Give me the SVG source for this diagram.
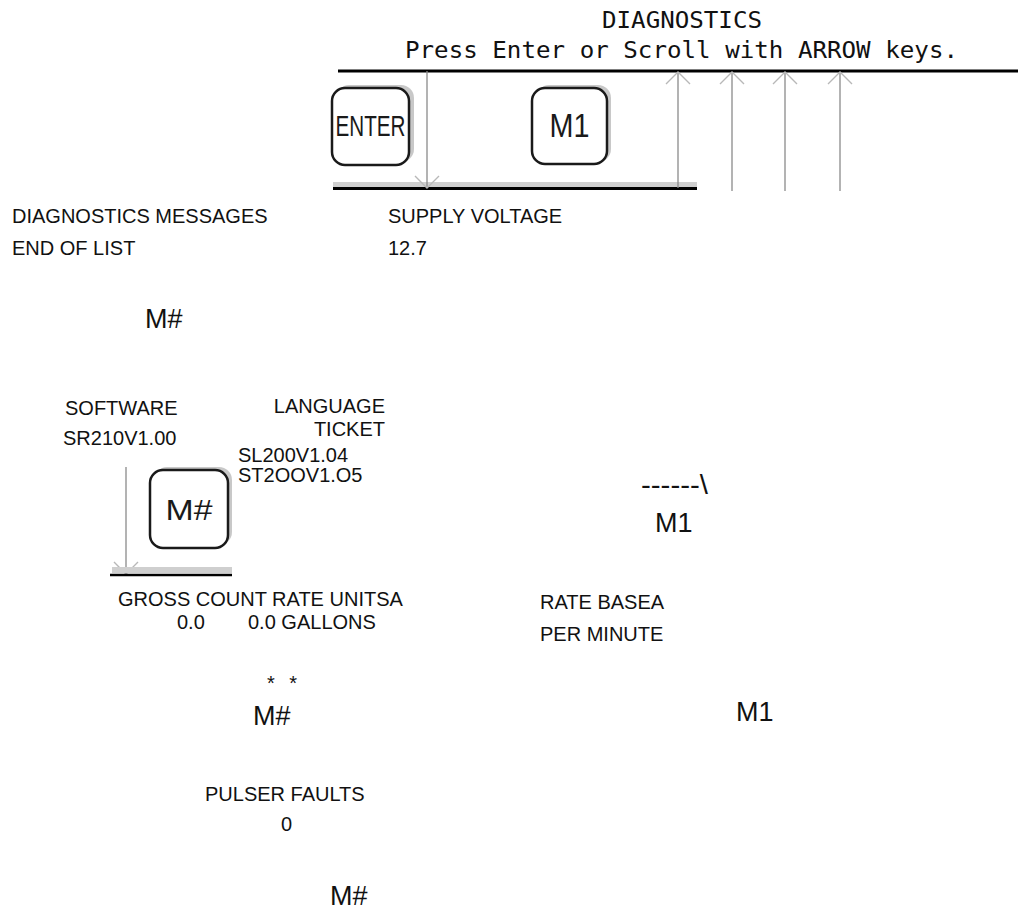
<svg xmlns="http://www.w3.org/2000/svg" width="1018" height="910" viewBox="0 0 1018 910">
<style>
.t{font-family:"Liberation Sans",Arial,sans-serif;font-size:20px;fill:#111}
.m{font-family:"Liberation Sans",Arial,sans-serif;font-size:27px;fill:#111}
.mono{font-family:"DejaVu Sans Mono","Liberation Mono",monospace;font-size:23px;fill:#111}
.key{fill:#fff;stroke:#1a1a1a;stroke-width:2.5}
.shadow{fill:#c8c8c8}
.keytxt{font-family:"Liberation Sans",Arial,sans-serif;fill:#1a1a1a}
.conn{stroke:#8a8a8a;stroke-width:1.3;fill:none}
.rule{stroke:#000;stroke-width:3}
.bar{fill:#cfcfcf}
</style>
<defs>
<marker id="head" viewBox="-14 -14 16 28" refX="0" refY="0" markerWidth="16" markerHeight="28" markerUnits="userSpaceOnUse" orient="auto">
<path d="M-12,-12 L0,0 L-12,12" fill="none" stroke="#b8b8b8" stroke-width="1.4"/>
</marker>
</defs>
<rect width="1018" height="910" fill="#fff"/>

<g id="header">
<text class="mono" x="682" y="28" text-anchor="middle" textLength="160" lengthAdjust="spacingAndGlyphs">DIAGNOSTICS</text>
<text class="mono" x="405" y="58" textLength="553" lengthAdjust="spacingAndGlyphs">Press Enter or Scroll with ARROW keys.</text>
</g>

<g id="panel-top">
<rect class="bar" x="333" y="182" width="364" height="6"/>
<line class="rule" x1="338" y1="71" x2="1018" y2="71"/>
<line class="rule" x1="333" y1="188.5" x2="697" y2="188.5"/>
</g>

<g id="key-enter">
<rect class="shadow" x="336" y="85" width="78" height="77" rx="13"/>
<rect class="key" x="332" y="88" width="77" height="77" rx="13"/>
<text class="keytxt" x="370.5" y="136" font-size="29" text-anchor="middle" textLength="70" lengthAdjust="spacingAndGlyphs">ENTER</text>
</g>

<g id="key-m1">
<rect class="shadow" x="536" y="85" width="75" height="77" rx="13"/>
<rect class="key" x="532" y="88" width="75" height="76" rx="13"/>
<text class="keytxt" x="569.5" y="137" font-size="33" text-anchor="middle" textLength="40" lengthAdjust="spacingAndGlyphs">M1</text>
</g>

<g id="connectors">
<line class="conn" x1="427" y1="71" x2="427" y2="188" marker-end="url(#head)"/>
<line class="conn" x1="678" y1="188" x2="678" y2="72" marker-end="url(#head)"/>
<line class="conn" x1="732" y1="191" x2="732" y2="72" marker-end="url(#head)"/>
<line class="conn" x1="785" y1="191" x2="785" y2="72" marker-end="url(#head)"/>
<line class="conn" x1="840" y1="191" x2="840" y2="72" marker-end="url(#head)"/>
<line class="conn" x1="126" y1="467" x2="126" y2="574" marker-end="url(#head)"/>
</g>

<g id="diag-messages">
<text class="t" x="12" y="223">DIAGNOSTICS MESSAGES</text>
<text class="t" x="12" y="255">END OF LIST</text>
</g>

<g id="supply-voltage">
<text class="t" x="388" y="223">SUPPLY VOLTAGE</text>
<text class="t" x="388" y="255">12.7</text>
</g>

<g id="m-hash-1"><text class="m" x="145" y="328">M#</text></g>

<g id="software">
<text class="t" x="65" y="415">SOFTWARE</text>
<text class="t" x="63" y="445">SR210V1.00</text>
</g>

<g id="language">
<text class="t" x="385" y="413" text-anchor="end">LANGUAGE</text>
<text class="t" x="385" y="436" text-anchor="end">TICKET</text>
<text class="t" x="238" y="462">SL200V1.04</text>
<text class="t" x="238" y="482">ST2OOV1.O5</text>
</g>

<g id="key-mhash">
<rect class="shadow" x="154" y="467" width="78" height="78" rx="13"/>
<rect class="key" x="150" y="470" width="78" height="78" rx="13"/>
<text class="keytxt" x="189" y="520" font-size="30" text-anchor="middle" textLength="47" lengthAdjust="spacingAndGlyphs">M#</text>
</g>

<g id="panel-left">
<rect class="bar" x="112" y="567" width="120" height="6"/>
<line x1="110" y1="575" x2="232" y2="575" stroke="#000" stroke-width="2.5"/>
</g>

<g id="scroll-m1">
<text class="m" x="641" y="494" font-size="28" textLength="67" lengthAdjust="spacingAndGlyphs">------\</text>
<text class="m" x="655" y="532" font-size="26">M1</text>
</g>

<g id="gross-count">
<text class="t" x="118" y="606">GROSS COUNT RATE UNITSA</text>
<text class="t" x="177" y="629">0.0</text>
<text class="t" x="248" y="629">0.0 GALLONS</text>
</g>

<g id="rate-base">
<text class="t" x="540" y="609">RATE BASEA</text>
<text class="t" x="540" y="641">PER MINUTE</text>
</g>

<g id="stars"><text class="t" x="267" y="690" font-size="25" textLength="30" lengthAdjust="spacing">* *</text></g>

<g id="m-hash-2"><text class="m" x="253" y="725">M#</text></g>

<g id="m1-right"><text class="m" x="736" y="721" font-size="26">M1</text></g>

<g id="pulser-faults">
<text class="t" x="205" y="801">PULSER FAULTS</text>
<text class="t" x="281" y="831">0</text>
</g>

<g id="m-hash-3"><text class="m" x="330" y="905">M#</text></g>
</svg>
